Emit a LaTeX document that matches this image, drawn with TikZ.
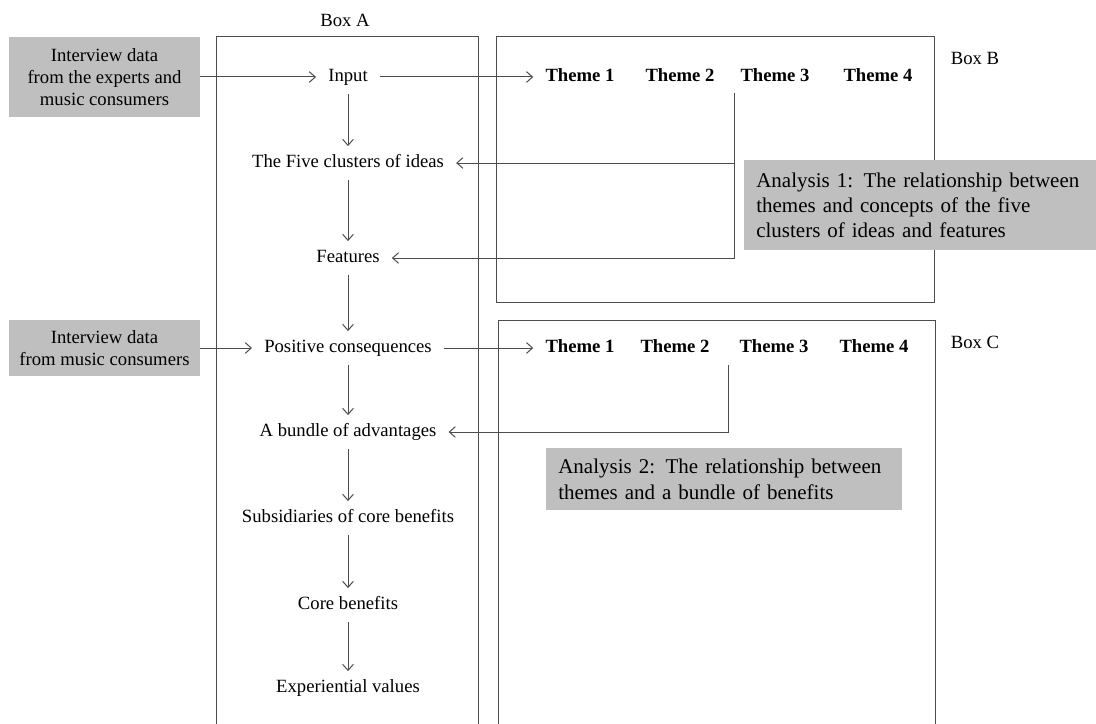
\documentclass[tikz,border=0pt]{standalone}
\usepackage{fontspec}
\setmainfont{Liberation Serif}
\usetikzlibrary{arrows.meta}
\definecolor{shade}{RGB}{191,191,191}

\begin{document}
\begin{tikzpicture}[x=0.75pt,y=-0.75pt,
		>={Straight Barb[length=4.5pt,width=8pt]},
		every node/.style={font=\fontsize{14}{16.5}\selectfont},
		item/.style={inner xsep=9pt,inner ysep=6pt,text height=10pt,text depth=3pt},
		theme/.style={item,font=\fontsize{14}{16.5}\selectfont\bfseries},
		datbox/.style={fill=shade,align=center,minimum width=143.25pt},
		anbox/.style={fill=shade,align=left,anchor=north west,inner xsep=9pt,font=\fontsize{15.75}{19}\selectfont},
		thinline/.style={draw=black!70,line width=0.75pt}]
		\useasboundingbox (0,0) rectangle (1096,724);
		\draw[thinline] (216,724) |- (478,37) -- (478,724);
		\draw[thinline] (496,37) rectangle (934,302);
		\draw[thinline] (498,724) |- (935,320) -- (935,724);
		\node (labA) at (345,20) {Box A};
		\node (labB) at (975,58) {Box B};
		\node (labC) at (975,342) {Box C};
		\node[datbox,minimum height=59.25pt] (dat1) at (104.5,77) {Interview data\\from the experts and\\music consumers};
		\node[datbox,minimum height=42pt] (dat2) at (104.5,348) {Interview data\\from music consumers};
		\node[item] (input) at (348,77) {Input};
		\node[item] (five) at (348,163) {The Five clusters of ideas};
		\node[item] (feat) at (348,258) {Features};
		\node[item] (pos) at (348,348) {Positive consequences};
		\node[item] (bundle) at (348,432) {A bundle of advantages};
		\node[item] (subs) at (348,518) {Subsidiaries of core benefits};
		\node[item] (core) at (348,605) {Core benefits};
		\node[item] (exp) at (348,688) {Experiential values};
		\foreach \x [count=\i] in {580,680,775,878}
		\node[theme] (thB\i) at (\x,77) {Theme \i};
		\foreach \x [count=\i] in {580,675,774,874}
		\node[theme] (thC\i) at (\x,348) {Theme \i};
		\draw[thinline,->] (dat1) -- (input);
		\draw[thinline,->] (input) -- (thB1);
		\draw[thinline,->] (dat2) -- (pos);
		\draw[thinline,->] (pos) -- (thC1);
		\foreach \a/\b in {input/five,five/feat,feat/pos,pos/bundle,bundle/subs,subs/core,core/exp}
		\draw[thinline,->] (\a) -- (\b);
		\coordinate (jB) at (734,93);
		\coordinate (jC) at (728,365);
		\draw[thinline,->] (jB) |- (five);
		\draw[thinline,->] (jB) |- (feat);
		\draw[thinline,->] (jC) |- (bundle);
		\node[anbox,minimum height=67.5pt,text width=246pt] (an1) at (744,160) {Analysis 1: The relationship between\\themes and concepts of the five\\clusters of ideas and features};
		\node[anbox,minimum height=46.5pt,text width=249pt] (an2) at (546,448) {Analysis 2: The relationship between\\themes and a bundle of benefits};
	\end{tikzpicture}
\end{document}
